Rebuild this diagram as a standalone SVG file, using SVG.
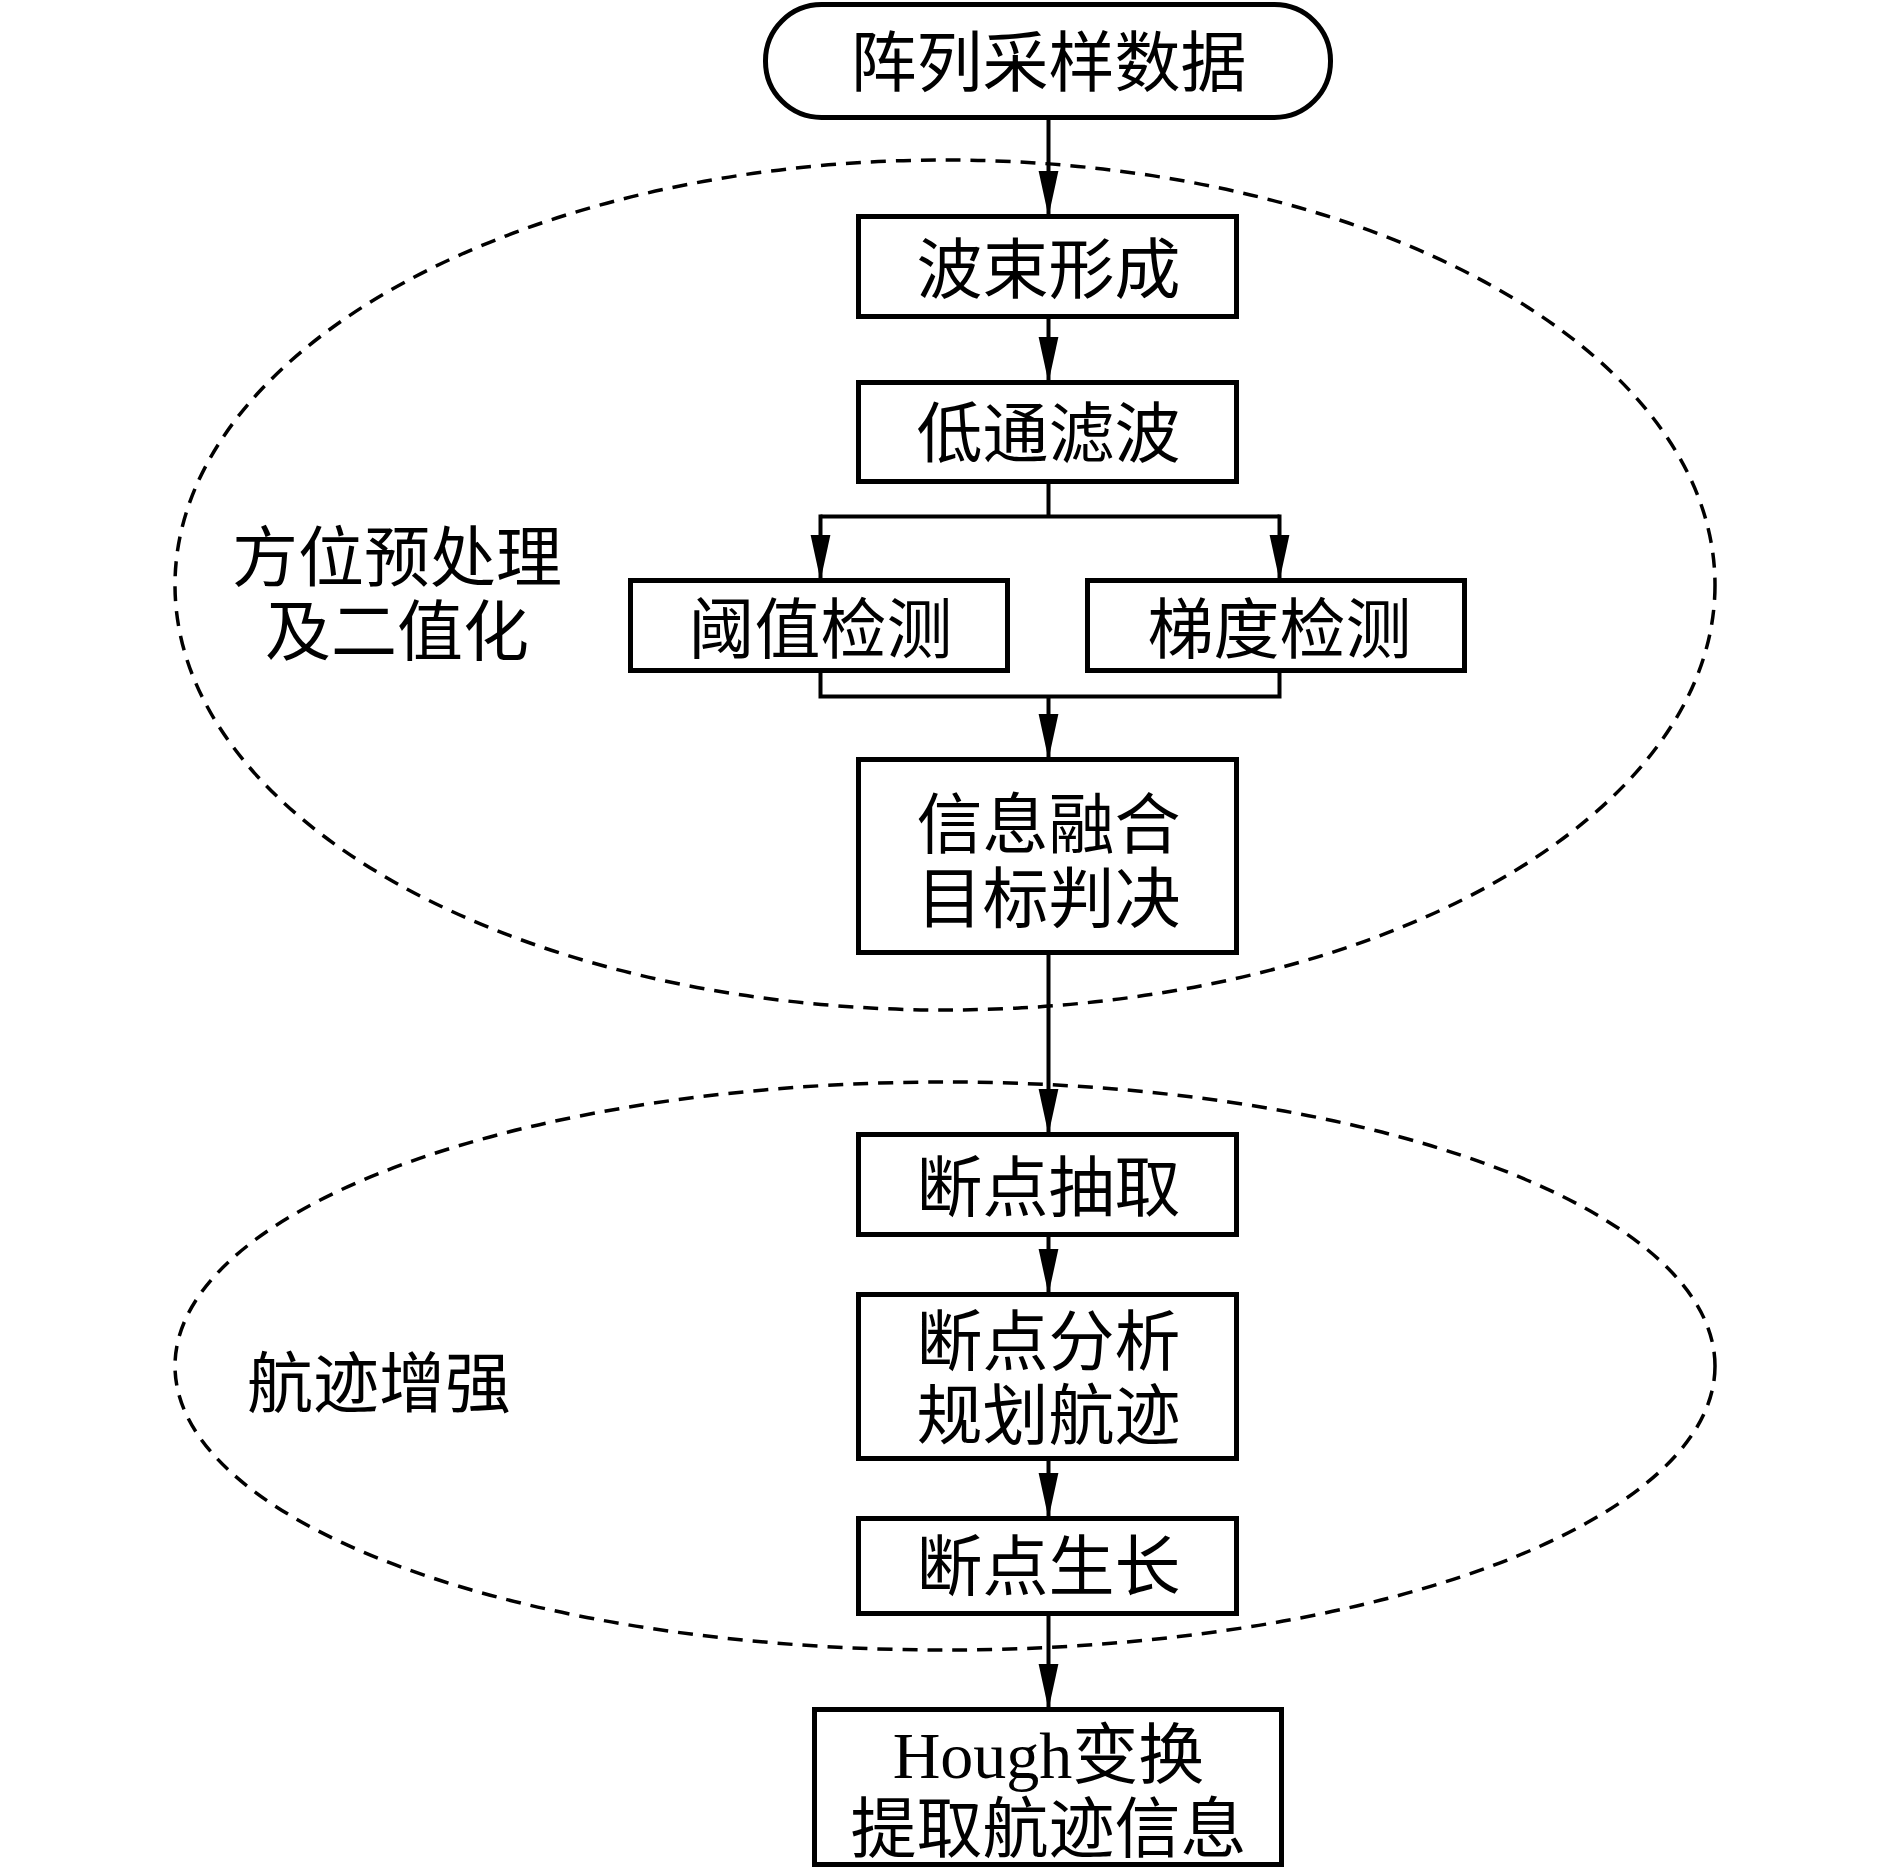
<svg xmlns="http://www.w3.org/2000/svg" width="1889" height="1867" viewBox="0 0 1889 1867">
<style>
.box{fill:#fff;stroke:#000;stroke-width:5}
.t{font-family:"Liberation Serif","Noto Sans CJK SC",serif;font-size:66px;fill:#000;text-anchor:middle}
.c{fill:none;stroke:#000;stroke-width:4}
.d{fill:none;stroke:#000;stroke-width:3.5;stroke-dasharray:15 10}
</style>
<defs>
<marker id="a" markerUnits="userSpaceOnUse" markerWidth="50" markerHeight="22" refX="46" refY="10" orient="auto">
<path d="M0,0 L46,10 L0,20 Z" fill="#000"/>
</marker>
</defs>
<rect width="1889" height="1867" fill="#fff"/>
<g id="groups">
<ellipse class="d" cx="945" cy="585" rx="770" ry="425"/>
<ellipse class="d" cx="945" cy="1366" rx="770" ry="284"/>
<text class="t" x="397" y="581">方位预处理</text>
<text class="t" x="397" y="655">及二值化</text>
<text class="t" x="379" y="1407">航迹增强</text>
</g>
<g transform="translate(2.5,1.5)">
<g id="connectors">
<line class="c" x1="1046" y1="117" x2="1046" y2="215" marker-end="url(#a)"/>
<line class="c" x1="1046" y1="315" x2="1046" y2="381" marker-end="url(#a)"/>
<polyline class="c" points="1046,480 1046,515"/>
<polyline class="c" points="818,515 1277,515"/>
<line class="c" x1="818" y1="513" x2="818" y2="579" marker-end="url(#a)"/>
<line class="c" x1="1277" y1="513" x2="1277" y2="579" marker-end="url(#a)"/>
<polyline class="c" points="818,669 818,695 1277,695 1277,669"/>
<line class="c" x1="1046" y1="695" x2="1046" y2="758" marker-end="url(#a)"/>
<line class="c" x1="1046" y1="951" x2="1046" y2="1133" marker-end="url(#a)"/>
<line class="c" x1="1046" y1="1233" x2="1046" y2="1293" marker-end="url(#a)"/>
<line class="c" x1="1046" y1="1457" x2="1046" y2="1517" marker-end="url(#a)"/>
<line class="c" x1="1046" y1="1612" x2="1046" y2="1708" marker-end="url(#a)"/>
</g>
<g id="n-start">
<rect class="box" x="763" y="3" width="565" height="113" rx="56" ry="56"/>
<text class="t" x="1046" y="84">阵列采样数据</text>
</g>
<g id="n-beam">
<rect class="box" x="856" y="215" width="378" height="100"/>
<text class="t" x="1046" y="291">波束形成</text>
</g>
<g id="n-lowpass">
<rect class="box" x="856" y="381" width="378" height="99"/>
<text class="t" x="1046" y="455">低通滤波</text>
</g>
<g id="n-threshold">
<rect class="box" x="628" y="579" width="377" height="90"/>
<text class="t" x="818" y="651">阈值检测</text>
</g>
<g id="n-gradient">
<rect class="box" x="1085" y="579" width="377" height="90"/>
<text class="t" x="1277" y="651">梯度检测</text>
</g>
<g id="n-fusion">
<rect class="box" x="856" y="758" width="378" height="193"/>
<text class="t" x="1046" y="846">信息融合</text>
<text class="t" x="1046" y="920">目标判决</text>
</g>
<g id="n-extract">
<rect class="box" x="856" y="1133" width="378" height="100"/>
<text class="t" x="1046" y="1209">断点抽取</text>
</g>
<g id="n-analysis">
<rect class="box" x="856" y="1293" width="378" height="164"/>
<text class="t" x="1046" y="1363">断点分析</text>
<text class="t" x="1046" y="1437">规划航迹</text>
</g>
<g id="n-grow">
<rect class="box" x="856" y="1517" width="378" height="95"/>
<text class="t" x="1046" y="1588">断点生长</text>
</g>
<g id="n-hough">
<rect class="box" x="812" y="1708" width="467" height="155"/>
<text class="t" x="1046" y="1776">Hough变换</text>
<text class="t" x="1046" y="1850">提取航迹信息</text>
</g>
</g>
</svg>
